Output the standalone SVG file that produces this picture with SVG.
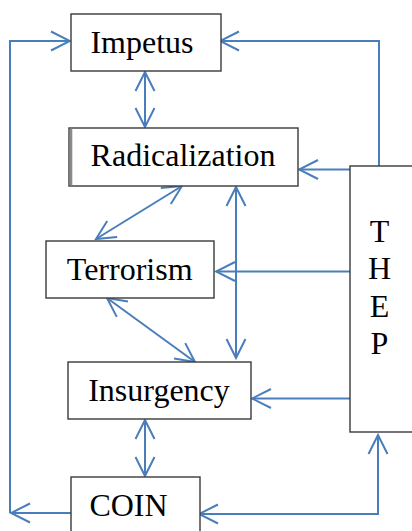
<svg xmlns="http://www.w3.org/2000/svg" width="412" height="531" viewBox="0 0 412 531">
<style>
.box{fill:#fff;stroke:#3a3a3a;stroke-width:1.4}
.lbl{font-family:"Liberation Serif","Times New Roman",serif;font-size:32px;fill:#000;text-anchor:middle}
.c{fill:none;stroke:#4a7ebb;stroke-width:2}
</style>
<defs>
<marker id="a" viewBox="-21 -11 23 22" markerWidth="23" markerHeight="22" refX="0" refY="0" orient="auto-start-reverse" markerUnits="userSpaceOnUse">
<path d="M-19,-9.5 L0,0 L-19,9.5" fill="none" stroke="#4a7ebb" stroke-width="2"/>
</marker>
</defs>
<g id="connectors">
<path class="c" d="M10,513 V41 H70" marker-end="url(#a)"/>
<path class="c" d="M71,513 H11" marker-end="url(#a)"/>
<path class="c" d="M379,166 V41 H220" marker-end="url(#a)"/>
<path class="c" d="M350,169.5 H299" marker-end="url(#a)"/>
<path class="c" d="M145,72 V127" marker-start="url(#a)" marker-end="url(#a)"/>
<path class="c" d="M182,186 L96,239" marker-start="url(#a)" marker-end="url(#a)"/>
<path class="c" d="M236,187 V358" marker-start="url(#a)" marker-end="url(#a)"/>
<path class="c" d="M350,271.5 H216" marker-end="url(#a)"/>
<path class="c" d="M107,298 L195,362" marker-start="url(#a)" marker-end="url(#a)"/>
<path class="c" d="M350,398.5 H252" marker-end="url(#a)"/>
<path class="c" d="M145,420 V476" marker-start="url(#a)" marker-end="url(#a)"/>
<path class="c" d="M199,514 H378 V435" marker-start="url(#a)" marker-end="url(#a)"/>
</g>
<g id="impetus">
<rect class="box" x="71" y="14" width="150" height="57"/>
<text class="lbl" x="142" y="53">Impetus</text>
</g>
<g id="radicalization">
<rect class="box" x="69" y="128" width="229" height="58"/>
<rect x="69.7" y="128.7" width="2.6" height="56.6" fill="#8a8a8a"/>
<text class="lbl" x="183" y="166">Radicalization</text>
</g>
<g id="terrorism">
<rect class="box" x="46" y="241" width="168" height="57"/>
<text class="lbl" x="129.7" y="279.5">Terrorism</text>
</g>
<g id="insurgency">
<rect class="box" x="68" y="362" width="183" height="57"/>
<text class="lbl" x="159" y="401">Insurgency</text>
</g>
<g id="coin">
<rect class="box" x="71" y="477" width="129" height="60"/>
<text class="lbl" x="128.5" y="515.5">COIN</text>
</g>
<g id="thep">
<rect class="box" x="350" y="166" width="70" height="266"/>
<text class="lbl" x="379.5" y="241.5">T</text>
<text class="lbl" x="379.5" y="279">H</text>
<text class="lbl" x="379.5" y="316.5">E</text>
<text class="lbl" x="379.5" y="353.5">P</text>
</g>
</svg>
